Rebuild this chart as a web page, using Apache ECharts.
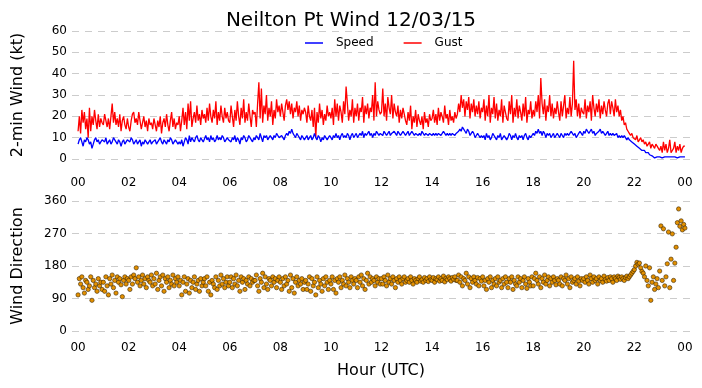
<!DOCTYPE html>
<html>
<head>
<meta charset="utf-8">
<script src="https://cdn.jsdelivr.net/npm/echarts@6/dist/echarts.min.js"></script>
<style>
html,body{margin:0;padding:0;background:#fff;}
#chart{width:702px;height:388px;}
</style>
</head>
<body>
<div id="chart"></div>
<script>
// ---- Data ----
const titleText = "Neilton Pt Wind 12/03/15";
const hourTicks = [0,2,4,6,8,10,12,14,16,18,20,22,24];

// wind speed & gust (kt), one value every 3 minutes from 00:00 to 24:00
const windStepMin = 3;
const speed = [
  7,9,10,8,6,9,8,10,9,7,8,5,7,9,10,8,9,7,8,9,
  9,8,10,7,8,9,7,8,10,9,8,7,9,8,6,8,9,7,8,9,
  9,8,10,9,7,8,9,7,8,9,6,8,7,9,8,7,8,9,7,8,
  8,9,7,8,9,10,8,7,9,8,7,9,8,10,9,7,8,9,8,7,
  8,7,9,6,8,10,9,7,11,8,10,9,8,10,11,9,8,10,9,8,
  8,11,9,10,8,11,9,10,8,9,11,9,10,9,11,10,8,9,10,9,
  9,8,10,9,11,8,10,9,7,10,9,11,10,8,9,11,10,9,8,10,
  9,11,10,9,12,10,8,11,10,11,9,10,11,10,9,11,10,12,11,10,
  10,11,10,9,11,12,11,13,12,14,12,11,10,12,11,10,9,11,10,9,
  10,11,9,10,11,9,10,12,10,9,11,10,8,10,9,11,10,9,10,11,
  10,9,11,10,12,10,11,9,11,12,10,11,10,12,11,9,11,12,10,11,
  12,10,11,12,11,13,10,12,11,12,13,11,12,10,12,11,13,12,11,12,
  12,11,13,12,11,12,13,11,12,12,13,12,11,13,12,11,12,13,12,11,
  12,13,11,12,13,12,11,12,12,11,12,11,13,12,11,12,12,11,12,12,
  11,12,11,12,11,12,12,11,12,13,12,11,12,11,12,11,12,12,11,12,
  12,13,14,13,15,14,13,12,14,13,11,12,13,12,10,11,12,11,10,11,
  10,11,9,12,10,11,9,10,12,11,10,9,11,10,12,9,10,11,10,9,
  10,12,11,9,11,10,12,10,9,11,10,11,9,11,12,10,9,11,10,11,
  12,11,13,12,14,12,13,11,13,12,10,12,11,12,10,11,12,10,11,12,
  11,10,12,11,10,12,11,12,11,12,13,12,11,12,10,11,12,13,12,11,
  13,12,14,13,12,13,14,12,13,11,12,12,13,14,12,13,12,11,12,13,
  11,12,11,12,11,11,12,10,11,10,11,10,11,10,9,10,9,9,8,8,
  7,7,6,6,5,5,4,4,4,3,2.5,3,2,2,1.5,1,0.5,1,1,1,
  1,1,0.5,1,1,1.5,1,0.5,1,1,1,0.5,1,1,0.5,1,1,0.5,1,1,
  1
];
const gust = [
  13,20,12,23,17,22,14,19,10,24,13,20,16,23,18,14,21,15,19,17,
  16,21,18,15,19,14,20,26,17,22,16,19,15,21,13,18,20,16,14,19,
  15,13,18,21,22,17,19,16,22,18,14,17,20,15,18,13,19,16,17,14,
  19,16,13,18,15,20,12,17,19,15,21,16,13,18,22,15,19,14,17,16,
  20,13,18,24,16,22,14,26,18,27,15,19,22,17,25,18,21,16,23,19,
  21,17,24,18,26,20,17,23,19,27,16,22,18,25,20,17,24,19,22,18,
  17,25,20,15,23,18,27,20,16,24,19,28,17,22,18,26,20,15,23,21,
  22,15,26,36,19,33,17,25,21,30,18,24,20,27,16,23,19,28,22,25,
  20,26,22,18,25,28,23,27,21,26,19,24,22,27,20,25,18,23,21,24,
  22,17,25,20,18,23,15,24,10,22,17,26,19,23,16,21,18,25,20,22,
  19,24,16,28,20,26,18,25,22,17,27,21,34,26,18,23,20,28,17,24,
  20,26,18,24,22,29,17,25,21,26,19,24,22,30,18,36,20,27,23,21,
  22,33,20,26,18,29,24,21,30,19,26,22,20,25,17,23,19,24,21,18,
  16,22,18,25,14,20,17,23,15,21,18,16,20,14,22,17,19,15,21,18,
  19,23,17,21,16,24,18,22,20,17,25,19,21,16,23,18,20,17,22,19,
  21,26,22,30,24,28,20,27,23,29,19,26,22,28,20,25,21,27,19,24,
  22,28,18,25,20,30,17,24,21,29,19,26,18,23,20,28,17,25,22,19,
  18,27,21,30,17,24,20,28,19,25,22,18,26,20,29,17,23,21,27,19,
  23,20,27,22,30,19,38,26,21,28,18,25,22,30,20,26,19,24,21,27,
  22,18,27,20,25,30,19,24,21,29,20,26,46,23,28,20,26,19,24,22,
  21,28,19,25,22,27,18,30,24,20,26,22,28,19,25,21,27,23,20,26,
  28,21,27,24,20,28,22,25,20,23,18,20,16,17,14,13,12,11,12,10,
  10,9,11,8,9,10,8,9,7,8,6,7,8,5,7,6,5,7,6,5,
  4,6,3,8,4,7,3,5,9,3,4,5,8,3,6,4,7,3,5,6,
  6
];

// wind direction (degrees), one value every 3 minutes from 00:00 to 24:00
const dirStepMin = 3;
const direction = [
  100,145,130,150,120,105,140,135,115,125,150,85,140,120,130,110,145,125,135,115,
  135,110,150,125,100,145,130,155,120,140,105,150,135,145,128,95,140,150,130,145,
  140,115,150,130,155,145,175,135,150,125,140,155,130,145,120,150,140,135,155,125,
  145,130,160,115,140,150,125,155,110,145,135,150,120,140,130,155,125,145,135,150,
  125,140,100,135,150,110,130,145,105,140,120,135,150,115,130,140,110,145,125,135,
  145,125,150,110,135,100,140,130,120,150,115,140,125,155,130,145,120,135,150,125,
  135,150,120,145,130,155,125,140,110,150,135,145,115,140,130,150,125,145,135,140,
  140,155,125,110,145,135,160,120,150,130,115,145,140,125,150,135,145,120,140,150,
  135,115,145,125,150,130,140,110,155,120,145,105,135,150,125,140,130,145,115,135,
  140,115,130,150,110,145,125,135,100,150,120,140,130,110,145,125,150,135,115,140,
  130,150,115,140,105,145,135,150,120,140,130,155,125,145,135,120,150,140,130,145,
  140,120,150,135,155,125,145,115,140,160,130,150,135,145,140,125,150,135,145,130,
  145,130,150,140,125,155,135,145,130,150,140,120,145,135,150,140,130,145,150,135,
  140,145,135,150,140,130,145,140,135,145,150,138,142,135,148,140,145,137,150,142,
  140,148,135,145,142,150,138,145,140,152,136,146,142,150,145,138,148,143,150,140,
  140,155,135,150,125,145,140,160,130,150,120,145,135,150,140,130,148,125,145,138,
  150,125,140,115,145,135,150,120,140,130,145,125,150,135,140,120,145,130,150,135,
  120,145,135,150,115,140,130,125,150,135,145,120,140,150,130,118,145,135,125,150,
  125,145,160,140,130,150,120,145,135,155,130,140,150,125,145,135,150,140,128,145,
  140,130,150,125,145,140,155,130,145,120,150,135,140,145,130,150,138,125,145,140,
  145,135,150,140,130,155,145,135,150,140,145,130,150,140,145,135,152,142,138,148,
  140,150,145,135,150,145,140,152,148,143,150,145,140,148,152,145,150,155,160,165,
  170,180,190,185,188,175,165,160,150,180,140,125,175,85,135,150,115,130,145,120,
  166,291,140,283,125,150,186,274,120,199,269,140,188,232,300,338,290,305,280,295,
  285
];

// ---- Build series points through the axes ----
const toPairs = (arr, stepMin) => arr.map((v, i) => [i * stepMin / 60, v]);
const pad2 = v => String(Math.round(v) % 24).padStart(2, '0');

const FONT = 'DejaVu Sans';
const gridLine = { show: true, lineStyle: { color: '#cccccc', width: 1, type: [7, 6] } };

const xCommon = (gridIndex, margin) => ({
  type: 'value', gridIndex, min: -0.24, max: 24.2,
  axisLine: { show: false }, axisTick: { show: false }, splitLine: { show: false },
  axisLabel: {
    customValues: hourTicks, formatter: pad2, margin,
    fontFamily: FONT, fontSize: 12, color: '#000'
  }
});

const chart = echarts.init(document.getElementById('chart'), null, { renderer: 'canvas' });
chart.setOption({
  animation: false,
  backgroundColor: '#ffffff',
  title: {
    text: titleText, left: 'center', top: 6,
    textStyle: { fontFamily: FONT, fontSize: 20, fontWeight: 'normal', color: '#000' }
  },
  legend: {
    data: ['Speed', 'Gust'], left: 300, top: 32, icon: 'rect',
    itemWidth: 18, itemHeight: 1.5, itemGap: 30,
    textStyle: { fontFamily: FONT, fontSize: 12, color: '#000', padding: [0, 0, 0, 8] }
  },
  grid: [
    { left: 72, right: 12, top: 31, height: 128 },
    { left: 72, right: 12, top: 201, height: 130 }
  ],
  xAxis: [
    xCommon(0, 18),
    Object.assign(xCommon(1, 11), {
      name: 'Hour (UTC)', nameLocation: 'middle', nameGap: 32,
      nameTextStyle: { fontFamily: FONT, fontSize: 16, color: '#000' }
    })
  ],
  yAxis: [
    {
      type: 'value', gridIndex: 0, min: 0, max: 60, interval: 10,
      name: '2-min Wind (kt)', nameLocation: 'middle', nameGap: 46,
      nameTextStyle: { fontFamily: FONT, fontSize: 16, color: '#000' },
      axisLine: { show: false }, axisTick: { show: false },
      axisLabel: { fontFamily: FONT, fontSize: 12, color: '#000', margin: 5 },
      splitLine: gridLine
    },
    {
      type: 'value', gridIndex: 1, min: 0, max: 360, interval: 90,
      name: 'Wind Direction', nameLocation: 'middle', nameGap: 46,
      nameTextStyle: { fontFamily: FONT, fontSize: 16, color: '#000' },
      axisLine: { show: false }, axisTick: { show: false },
      axisLabel: { fontFamily: FONT, fontSize: 12, color: '#000', margin: 5 },
      splitLine: gridLine
    }
  ],
  series: [
    {
      name: 'Speed', type: 'line', xAxisIndex: 0, yAxisIndex: 0,
      data: toPairs(speed, windStepMin), symbol: 'none', z: 3,
      lineStyle: { color: '#0000ff', width: 1.3 }, itemStyle: { color: '#0000ff' }
    },
    {
      name: 'Gust', type: 'line', xAxisIndex: 0, yAxisIndex: 0,
      data: toPairs(gust, windStepMin), symbol: 'none', z: 2,
      lineStyle: { color: '#ff0000', width: 1.3 }, itemStyle: { color: '#ff0000' }
    },
    {
      name: 'Direction', type: 'scatter', xAxisIndex: 1, yAxisIndex: 1,
      data: toPairs(direction, dirStepMin), symbol: 'circle', symbolSize: 4.3,
      itemStyle: { color: '#e39000', borderColor: '#3b2500', borderWidth: 0.6, opacity: 1 }
    }
  ]
});
</script>
</body>
</html>
